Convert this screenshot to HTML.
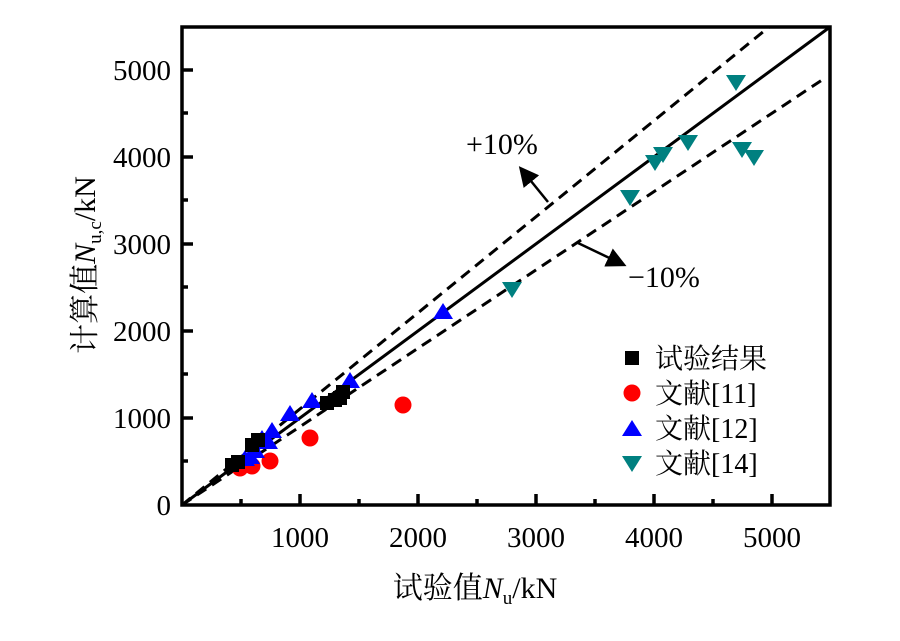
<!DOCTYPE html>
<html><head><meta charset="utf-8"><style>body{margin:0;background:#fff}</style></head><body>
<svg width="900" height="636" xmlns="http://www.w3.org/2000/svg" font-family="'Liberation Serif','Noto Serif CJK SC',serif">
<defs><marker id="ar" markerWidth="8" markerHeight="8" refX="6" refY="4" orient="auto"><path d="M0,0L8,4L0,8z" fill="#000"/></marker></defs>
<rect x="182" y="27" width="648" height="478" fill="none" stroke="#000" stroke-width="3.5"/>
<g stroke="#000" stroke-width="3.5">
<line x1="182" y1="418" x2="193" y2="418"/><line x1="182" y1="331" x2="193" y2="331"/><line x1="182" y1="244" x2="193" y2="244"/><line x1="182" y1="157" x2="193" y2="157"/><line x1="182" y1="70" x2="193" y2="70"/>
<line x1="182" y1="461" x2="188" y2="461"/><line x1="182" y1="374" x2="188" y2="374"/><line x1="182" y1="287" x2="188" y2="287"/><line x1="182" y1="200" x2="188" y2="200"/><line x1="182" y1="113" x2="188" y2="113"/>
<line x1="300" y1="505" x2="300" y2="494"/><line x1="418" y1="505" x2="418" y2="494"/><line x1="536" y1="505" x2="536" y2="494"/><line x1="654" y1="505" x2="654" y2="494"/><line x1="772" y1="505" x2="772" y2="494"/>
<line x1="241" y1="505" x2="241" y2="499"/><line x1="359" y1="505" x2="359" y2="499"/><line x1="477" y1="505" x2="477" y2="499"/><line x1="595" y1="505" x2="595" y2="499"/><line x1="713" y1="505" x2="713" y2="499"/>
</g>
<g font-size="29" text-anchor="end">
<text x="171" y="515">0</text><text x="171" y="428">1000</text><text x="171" y="341">2000</text><text x="171" y="254">3000</text><text x="171" y="167">4000</text><text x="171" y="80">5000</text>
</g>
<g font-size="29" text-anchor="middle">
<text x="300" y="547">1000</text><text x="418" y="547">2000</text><text x="536" y="547">3000</text><text x="654" y="547">4000</text><text x="772" y="547">5000</text>
</g>
<text x="475" y="598" font-size="30" text-anchor="middle">试验值<tspan font-style="italic">N</tspan><tspan font-size="19" dy="6">u</tspan><tspan dy="-6">/kN</tspan></text>
<text transform="translate(95,265) rotate(-90)" font-size="30" text-anchor="middle">计算值<tspan font-style="italic">N</tspan><tspan font-size="19" dy="6">u,c</tspan><tspan dy="-6">/kN</tspan></text>
<line x1="182" y1="505" x2="830" y2="27" stroke="#000" stroke-width="3"/>
<line x1="182" y1="505" x2="769" y2="27" stroke="#000" stroke-width="3" stroke-dasharray="11,7"/>
<line x1="182" y1="505" x2="822" y2="80" stroke="#000" stroke-width="3" stroke-dasharray="11,7"/>
<g fill="#ff0000">
<circle cx="240" cy="468" r="8.5"/><circle cx="252" cy="466" r="8.5"/><circle cx="270" cy="461" r="8.5"/><circle cx="310" cy="438" r="8.5"/><circle cx="403" cy="405" r="8.5"/>
</g>
<g fill="#0000ff">
<path d="M245,450l10,16h-20z"/><path d="M255,442l10,16h-20z"/><path d="M262,430l10,16h-20z"/><path d="M272,422l10,16h-20z"/><path d="M290,405l10,16h-20z"/><path d="M312,392l10,16h-20z"/><path d="M350,372l10,16h-20z"/><path d="M443,303l10,16h-20z"/><path d="M250,448l10,16h-20z"/><path d="M268,433l10,16h-20z"/>
</g>
<g fill="#000">
<rect x="225" y="458" width="14" height="14"/><rect x="231" y="455" width="14" height="14"/><rect x="245" y="438" width="14" height="14"/><rect x="251" y="433" width="14" height="14"/><rect x="320" y="396" width="14" height="14"/><rect x="328" y="393" width="14" height="14"/><rect x="333" y="391" width="14" height="14"/><rect x="336" y="385" width="14" height="14"/>
</g>
<g fill="#008080">
<path d="M502,282h20l-10,16z"/><path d="M620,190h20l-10,16z"/><path d="M645,155h20l-10,16z"/><path d="M653,147h20l-10,16z"/><path d="M678,135h20l-10,16z"/><path d="M726,75h20l-10,16z"/><path d="M732,142h20l-10,16z"/><path d="M744,150h20l-10,16z"/>
</g>
<text x="466" y="154" font-size="30">+10%</text>
<line x1="548" y1="202" x2="522" y2="170" stroke="#000" stroke-width="2.5" marker-end="url(#ar)"/>
<text x="628" y="287" font-size="30">−10%</text>
<line x1="578" y1="243" x2="622" y2="264" stroke="#000" stroke-width="2.5" marker-end="url(#ar)"/>
<rect x="625" y="351" width="14" height="14" fill="#000"/>
<circle cx="632" cy="393" r="8.5" fill="#ff0000"/>
<path d="M632,420l10,16h-20z" fill="#0000ff"/>
<path d="M622,456h20l-10,16z" fill="#008080"/>
<g font-size="28"><text x="655" y="368">试验结果</text><text x="655" y="403">文献[11]</text><text x="655" y="438">文献[12]</text><text x="655" y="473">文献[14]</text></g>
</svg>
</body></html>
